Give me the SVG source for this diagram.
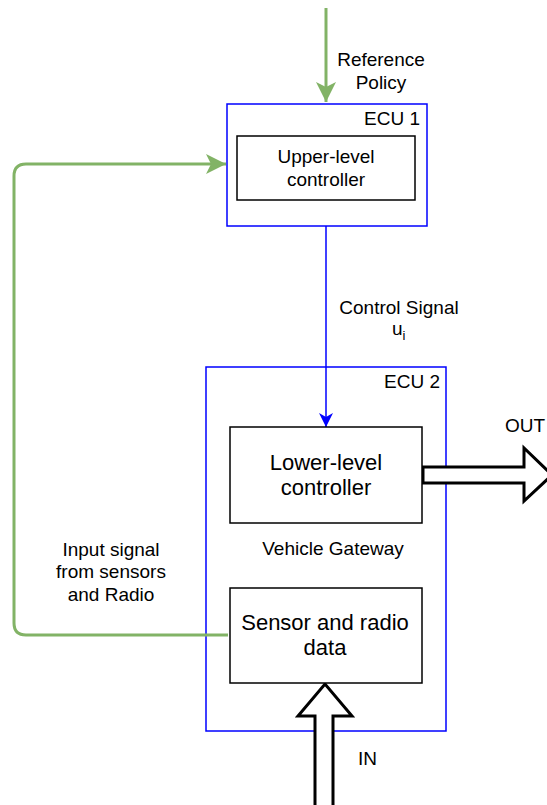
<svg xmlns="http://www.w3.org/2000/svg" width="547" height="805" viewBox="0 0 547 805">
  <style>
    text { font-family: "Liberation Sans", Arial, Helvetica, sans-serif; fill: #000; }
    .lbl { font-size: 19px; }
    .big { font-size: 22px; }
    .mid { text-anchor: middle; }
    .end { text-anchor: end; }
    .ecu { fill: none; stroke: #0000ff; stroke-width: 1.5; }
    .box { fill: #fff; stroke: #000; stroke-width: 1.5; }
    .green { fill: none; stroke: #82b366; stroke-width: 3; }
    .blue { fill: none; stroke: #0000ff; stroke-width: 1.5; }
    .fat { fill: #fff; stroke: #000; stroke-width: 3; stroke-linejoin: miter; }
  </style>
  <defs>
    <marker id="greenHead" viewBox="0 0 20 20" refX="20" refY="10" markerUnits="userSpaceOnUse" markerWidth="22" markerHeight="20" orient="auto">
      <path d="M0,0 L20,10 L0,20 L5,10 Z" fill="#82b366"/>
    </marker>
    <marker id="blueHead" viewBox="0 0 14 14" refX="14" refY="7" markerUnits="userSpaceOnUse" markerWidth="14" markerHeight="14" orient="auto">
      <path d="M0,0 L14,7 L0,14 L4,7 Z" fill="#0000ff"/>
    </marker>
  </defs>

  <!-- ECU containers -->
  <g id="ecu1">
    <rect class="ecu" x="227" y="104" width="200" height="122"/>
    <text class="lbl end" x="420" y="125">ECU 1</text>
  </g>
  <g id="ecu2">
    <rect class="ecu" x="206" y="367" width="240" height="364"/>
    <text class="lbl end" x="440" y="388">ECU 2</text>
    <text class="lbl mid" x="333" y="555">Vehicle Gateway</text>
  </g>

  <!-- connectors -->
  <g id="connectors">
    <path class="green" d="M326,8 L326,102" marker-end="url(#greenHead)"/>
    <path class="green" d="M228,635 L26,635 Q14,635 14,623 L14,176 Q14,164 26,164 L226,164" marker-end="url(#greenHead)"/>
    <path class="blue" d="M326,226 L326,427" marker-end="url(#blueHead)"/>
    <!-- OUT block arrow -->
    <path class="fat" d="M423,467 L524,467 L524,448 L552,475 L524,501 L524,483 L423,483 Z"/>
    <!-- IN block arrow -->
    <path class="fat" d="M315,810 L315,716 L298,716 L325,684 L352,716 L333,716 L333,810 Z"/>
  </g>

  <!-- nodes -->
  <g id="upper-controller">
    <rect class="box" x="237" y="136" width="178" height="64"/>
    <text class="lbl mid" x="326" y="163">Upper-level</text>
    <text class="lbl mid" x="326" y="186">controller</text>
  </g>
  <g id="lower-controller">
    <rect class="box" x="230" y="427" width="192" height="96"/>
    <text class="big mid" x="326" y="470">Lower-level</text>
    <text class="big mid" x="326" y="495">controller</text>
  </g>
  <g id="sensor-data">
    <rect class="box" x="230" y="588" width="192" height="95"/>
    <text class="big mid" x="325" y="630">Sensor and radio</text>
    <text class="big mid" x="325" y="655">data</text>
  </g>

  <!-- edge labels -->
  <g id="labels">
    <text class="lbl mid" x="381" y="66">Reference</text>
    <text class="lbl mid" x="381" y="89">Policy</text>
    <text class="lbl mid" x="399" y="314">Control Signal</text>
    <text class="lbl" x="392" y="335">u<tspan font-size="13" dy="5">i</tspan></text>
    <text class="lbl" x="505" y="432">OUT</text>
    <text class="lbl" x="358" y="765">IN</text>
    <text class="lbl mid" x="111" y="556">Input signal</text>
    <text class="lbl mid" x="111" y="578">from sensors</text>
    <text class="lbl mid" x="111" y="601">and Radio</text>
  </g>
</svg>
